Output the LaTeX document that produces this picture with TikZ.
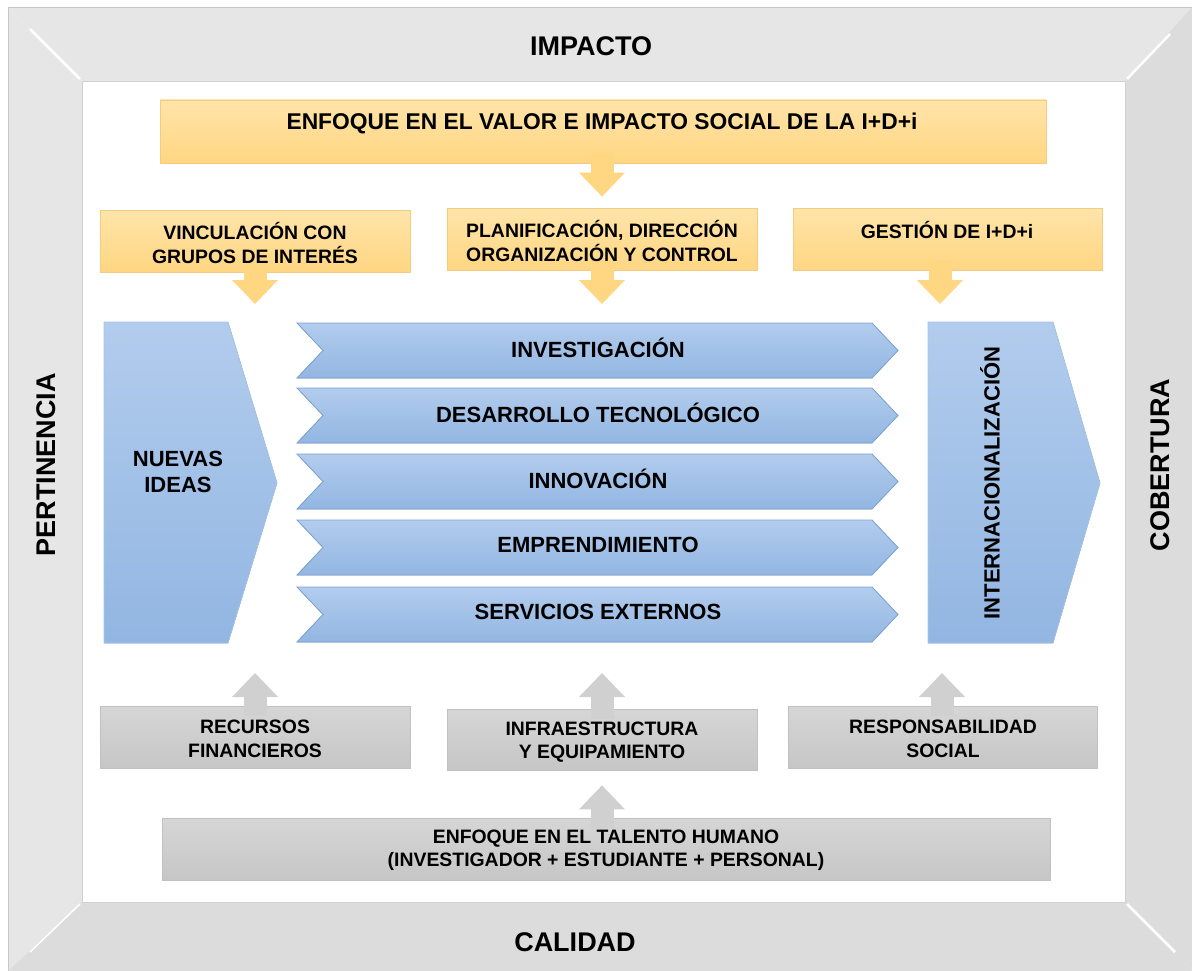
\documentclass[tikz,border=0pt]{standalone}
\usepackage{fontspec}
\setmainfont{Liberation Sans}
\usetikzlibrary{calc, positioning, fit, arrows.meta}
\definecolor{ambar}{RGB}{255,214,130}
\definecolor{ambarclaro}{RGB}{255,228,170}
\definecolor{ambarborde}{RGB}{244,204,128}
\definecolor{azul}{RGB}{146,182,226}
\definecolor{azulclaro}{RGB}{178,204,237}
\definecolor{azulborde}{RGB}{124,162,212}
\definecolor{plomo}{RGB}{198,198,198}
\definecolor{plomoclaro}{RGB}{214,214,214}
\definecolor{plomoflecha}{RGB}{208,208,208}
\definecolor{marcoA}{RGB}{230,230,230}
\definecolor{marcoB}{RGB}{220,220,220}
\tikzset{
  grande/.style={font=\bfseries\fontsize{27}{31}\selectfont},
  titulo/.style={font=\bfseries\fontsize{22.8}{27}\selectfont},
  medio/.style={font=\bfseries\fontsize{22}{26}\selectfont},
  chico/.style={font=\bfseries\fontsize{19.4}{23.5}\selectfont}
}
% one chevron of the middle column: name, top y, text
\newcommand\etapa[3]{\fill[top color=azulclaro, bottom color=azul, draw=azulborde, line width=0.8pt] (297,#2) -- (872,#2) -- (898,#2+27.5) -- (872,#2+55) -- (297,#2+55) -- (323,#2+27.5) -- cycle;
\node[medio] (#1) at (598,#2+25) {#3};}

\begin{document}
\begin{tikzpicture}[x=1pt, y=-1pt,
  ycaja/.style={inner sep=0pt, top color=ambarclaro, bottom color=ambar, draw=ambarborde, line width=0.8pt},
  gcaja/.style={inner sep=0pt, top color=plomoclaro, bottom color=plomo, draw=plomoclaro!90!black, line width=0.8pt},
  yflecha/.style={ambar, line width=23pt, shorten <=-10pt, -{Triangle[width=46pt, length=24pt, line width=0pt]}},
  gflecha/.style={plomoflecha, line width=23pt, shorten <=-10pt, -{Triangle[width=46pt, length=24pt, line width=0pt]}}]
\useasboundingbox (0,0) rectangle (1192,971);
\fill[white] (0,0) rectangle (1192,971);

% frame
\fill[marcoA] (8,7) -- (1192,7) -- (1125,81) -- (82,81) -- cycle;
\fill[marcoA] (8,7) -- (82,81) -- (82,902) -- (8,971) -- cycle;
\fill[marcoB] (1192,7) -- (1192,971) -- (1125,902) -- (1125,81) -- cycle;
\fill[marcoB] (8,971) -- (1192,971) -- (1125,902) -- (82,902) -- cycle;
\draw[black!22, line width=0.8pt] (8,971) -- (8,7) -- (1192,7);
\draw[black!18, line width=0.8pt] (82,81) rectangle (1125,902);
\draw[white, line width=2.5pt] (30,29) -- (80,79);
\draw[white, line width=2.5pt] (1127,79) -- (1170,34);
\draw[white, line width=2.5pt] (1127,904) -- (1175,952);
\draw[white, line width=1.5pt] (80,904) -- (30,952);
\node[grande] (impacto) at (591,46) {IMPACTO};
\node[grande] (calidad) at (575,942) {CALIDAD};
\node[grande, rotate=90] (pertinencia) at (46,465) {PERTINENCIA};
\node[grande, rotate=90] (cobertura) at (1160,465) {COBERTURA};

% top boxes
\node[ycaja, fit={(160,100) (1046,163)}] (valor) {};
\node[ycaja, fit={(100,210) (410,272)}] (vinc) {};
\node[ycaja, fit={(447,208) (757,270)}] (planif) {};
\node[ycaja, fit={(793,208) (1102,270)}] (gestion) {};

\coordinate (pv) at (255,304);
\coordinate (pg) at (940,304);
\coordinate (pp) at (602,304);
\draw[yflecha, shorten >=11pt] (valor.south -| planif.south) -- (planif.north);
\draw[yflecha] (vinc.south) -- (pv);
\draw[yflecha] (planif.south) -- (pp);
\draw[yflecha] (gestion.south -| pg) -- (pg);

\node[titulo] (valortxt) at (602,123) {ENFOQUE EN EL VALOR E IMPACTO SOCIAL DE LA I+D+i};
\node[chico, align=center] (vinctxt) at (255,243) {VINCULACIÓN CON\\GRUPOS DE INTERÉS};
\node[chico, align=center] (planiftxt) at (602,241) {PLANIFICACIÓN, DIRECCIÓN\\ORGANIZACIÓN Y CONTROL};
\node[chico] (gestiontxt) at (947,230) {GESTIÓN DE I+D+i};

% middle
\fill[top color=azulclaro, bottom color=azul, draw=azulclaro!80!azulborde, line width=0.8pt] (104,322) -- (228,322) -- (277,483) -- (228,643) -- (104,643) -- cycle;
\node[medio, align=center] (nuevas) at (178,472) {NUEVAS\\IDEAS};
\etapa{inv}{323}{INVESTIGACIÓN}
\etapa{des}{388}{DESARROLLO TECNOLÓGICO}
\etapa{inn}{454}{INNOVACIÓN}
\etapa{emp}{520}{EMPRENDIMIENTO}
\etapa{ser}{587}{SERVICIOS EXTERNOS}
\fill[top color=azulclaro, bottom color=azul, draw=azulclaro!80!azulborde, line width=0.8pt] (928,322) -- (1053,322) -- (1100,483) -- (1053,643) -- (928,643) -- cycle;
\node[medio, rotate=90] (inter) at (990,483) {INTERNACIONALIZACIÓN};

% bottom boxes
\node[gcaja, fit={(100,706) (410,768)}] (recursos) {};
\node[gcaja, fit={(447,709) (757,770)}] (infra) {};
\node[gcaja, fit={(788,706) (1097,768)}] (resp) {};
\node[gcaja, fit={(162,818) (1050,880)}] (talento) {};

\coordinate (qr) at (255,673);
\coordinate (qi) at (602,673);
\coordinate (qs) at (942,673);
\draw[gflecha] (recursos.north) -- (qr);
\draw[gflecha] (infra.north) -- (qi);
\draw[gflecha] (resp.north -| qs) -- (qs);
\draw[gflecha, shorten >=15pt] (talento.north -| infra.south) -- (infra.south);

\node[chico, align=center] (recursostxt) at (255,739) {RECURSOS\\FINANCIEROS};
\node[chico, align=center] (infratxt) at (602,742) {INFRAESTRUCTURA\\Y EQUIPAMIENTO};
\node[chico, align=center] (resptxt) at (943,739) {RESPONSABILIDAD\\SOCIAL};
\node[chico, align=center] (talentotxt) at (606,850) {ENFOQUE EN EL TALENTO HUMANO\\(INVESTIGADOR + ESTUDIANTE + PERSONAL)};

\end{tikzpicture}
\end{document}
